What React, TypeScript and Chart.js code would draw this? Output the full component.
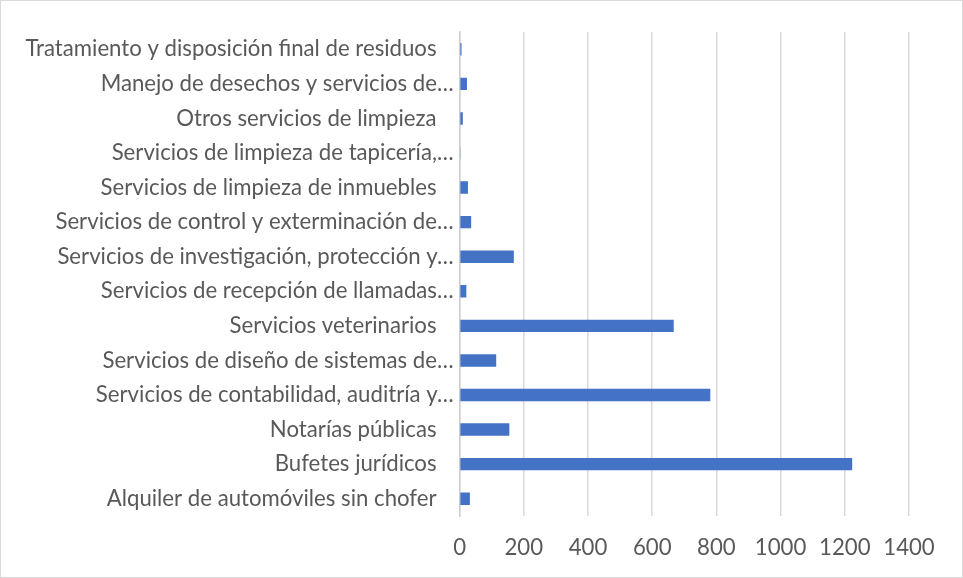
import React, { useEffect, useRef } from "react";
import { Chart, registerables } from "chart.js";

Chart.register(...registerables);

// Categories listed bottom-to-top (as in the source chart)
const categories = [
  "Alquiler de automóviles sin chofer   ",
  "Bufetes jurídicos   ",
  "Notarías públicas   ",
  "Servicios de contabilidad, auditría y…",
  "Servicios de diseño de sistemas de…",
  "Servicios veterinarios   ",
  "Servicios de recepción de llamadas…",
  "Servicios de investigación, protección y…",
  "Servicios de control y exterminación de…",
  "Servicios de limpieza de inmuebles   ",
  "Servicios de limpieza de tapicería,…",
  "Otros servicios de limpieza   ",
  "Manejo de desechos y servicios de…",
  "Tratamiento y disposición final de residuos   ",
];

const values = [32, 1223, 155, 781, 114, 667, 21, 169, 36, 26, 3, 10, 23, 6];

const xMin = 0;
const xMax = 1400;
const xStep = 200;

const FONT = "Lato, 'Open Sans', sans-serif";
const TEXT = "#595959";
const GRID = "#d9d9d9";
const BAR = "#4472C4";

export default function App() {
  const ref = useRef<HTMLCanvasElement | null>(null);

  useEffect(() => {
    document.body.style.margin = "0";
    const canvas = ref.current;
    if (!canvas) return;
    const chart = new Chart(canvas, {
      type: "bar",
      data: {
        labels: categories,
        datasets: [
          {
            data: values,
            backgroundColor: BAR,
            borderWidth: 0,
            barPercentage: 0.36,
            categoryPercentage: 1,
          },
        ],
      },
      options: {
        indexAxis: "y",
        responsive: false,
        animation: false,
        devicePixelRatio: 1,
        layout: { padding: { left: 0, right: 53, top: 31, bottom: 0 } },
        plugins: {
          legend: { display: false },
          tooltip: { enabled: false },
          title: { display: false },
        },
        scales: {
          x: {
            type: "linear",
            min: xMin,
            max: xMax,
            ticks: {
              stepSize: xStep,
              color: TEXT,
              font: { family: FONT, size: 22.2 },
              padding: 19,
              callback: (v: any) => String(v),
            },
            grid: { color: GRID, lineWidth: 1.5, drawTicks: false },
            border: { display: false },
            afterFit: (s: any) => {
              s.height = 61;
            },
          },
          y: {
            reverse: true,
            ticks: {
              color: TEXT,
              font: { family: FONT, size: 22.2 },
              padding: 6,
              autoSkip: false,
            },
            grid: { display: false, drawTicks: false },
            border: { display: true, color: "#cfcfcf", width: 1.5 },
            afterFit: (s: any) => {
              s.width = 458.6;
            },
          },
        },
      },
    });
    return () => chart.destroy();
  }, []);

  return (
    <div
      style={{
        width: 961,
        height: 576,
        border: "1px solid #d9d9d9",
        background: "#fff",
      }}
    >
      <canvas ref={ref} width={961} height={576} />
    </div>
  );
}
